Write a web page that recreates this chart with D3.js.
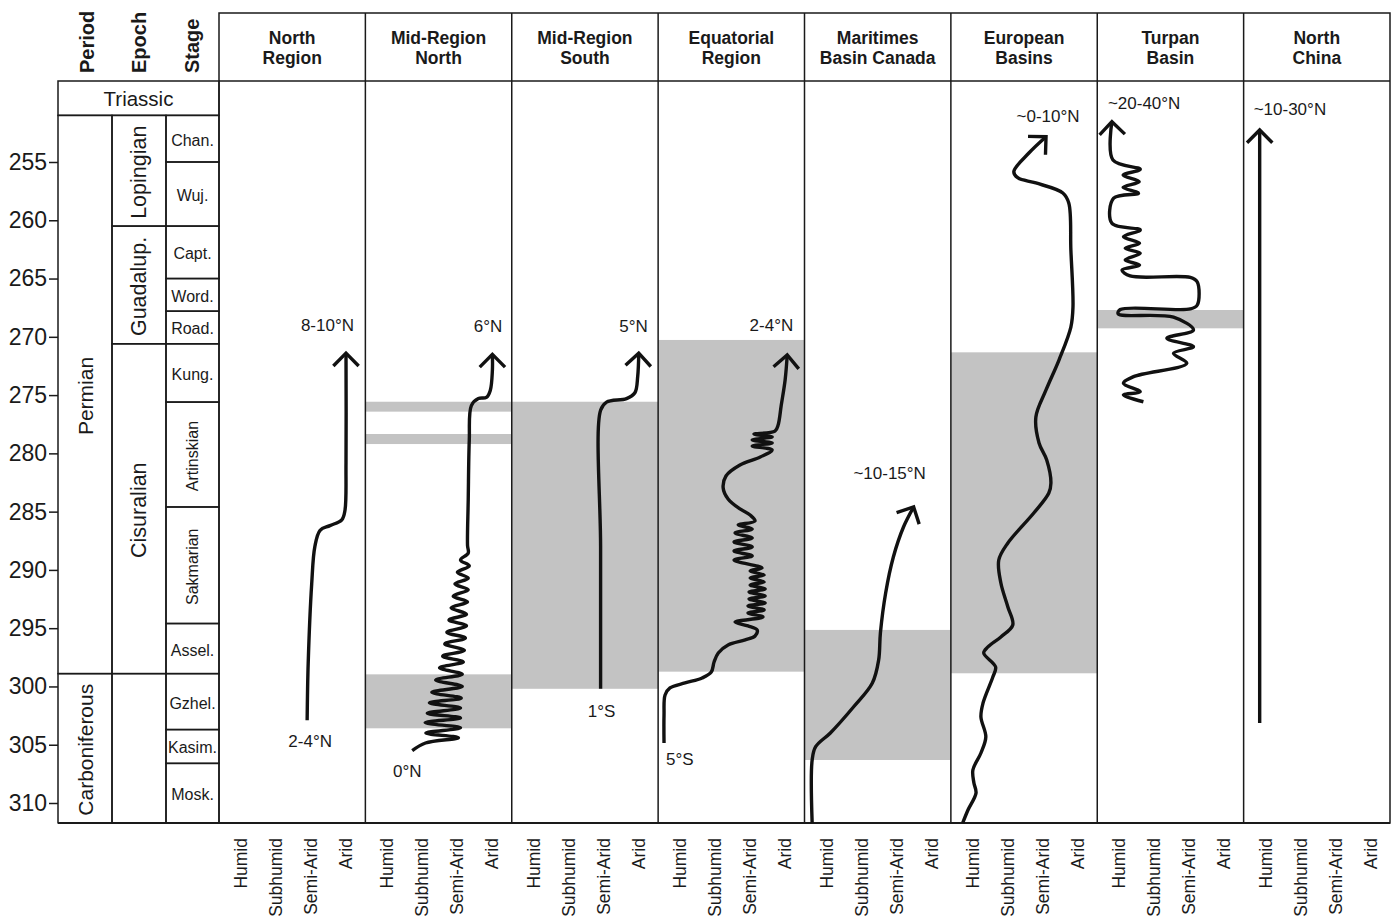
<!DOCTYPE html>
<html>
<head>
<meta charset="utf-8">
<script src="https://cdn.jsdelivr.net/npm/d3@7"></script>
<style>
  html, body { margin: 0; padding: 0; background: #fff; }
  svg text { font-family: "Liberation Sans", Arial, sans-serif; fill: #1a1a1a; }
</style>
</head>
<body>
<div id="chart"></div>
<script>
/* =====================================================
 * DATA
 * ===================================================== */
const regions = ["North Region", "Mid-Region North", "Mid-Region South", "Equatorial Region",
  "Maritimes Basin Canada", "European Basins", "Turpan Basin", "North China"];
const regionTitles = [["North", "Region"], ["Mid-Region", "North"], ["Mid-Region", "South"],
  ["Equatorial", "Region"], ["Maritimes", "Basin Canada"], ["European", "Basins"],
  ["Turpan", "Basin"], ["North", "China"]];
const climates = ["Humid", "Subhumid", "Semi-Arid", "Arid"];
const ageTicks = [255, 260, 265, 270, 275, 280, 285, 290, 295, 300, 305, 310];

// time scale (Ma): [name, top, base]
const periods = [["Permian", 251, 298.9], ["Carboniferous", 298.9, 311.7]];
const epochs = [["Lopingian", 251, 260.5], ["Guadalup.", 260.5, 270.6],
  ["Cisuralian", 270.6, 298.9], ["", 298.9, 311.7]];
const stages = [["Chan.", 251, 255], ["Wuj.", 255, 260.5], ["Capt.", 260.5, 265],
  ["Word.", 265, 267.8], ["Road.", 267.8, 270.6], ["Kung.", 270.6, 275.6],
  ["Artinskian", 275.6, 284.6], ["Sakmarian", 284.6, 294.6], ["Assel.", 294.6, 298.9],
  ["Gzhel.", 298.9, 303.7], ["Kasim.", 303.7, 306.6], ["Mosk.", 306.6, 311.7]];
const triassicBase = 251;

// climate curves: [age Ma, climate index 0=Humid .. 3=Arid], oldest first
const curveNorthRegion = [[302.9, 1.89], [298.0, 1.92], [291.2, 2.02], [288.0, 2.11], [286.6, 2.26],
  [286.2, 2.54], [285.7, 2.88], [284.9, 2.97], [280.8, 3.0], [271.4, 3.0]];

const curveMidNorth = [[305.5, 0.71], [304.85, 1.09],
  [304.4, 2.03], [304.0, 1.1], [303.55, 2.09], [303.1, 1.08], [302.7, 2.09], [302.3, 1.14],
  [301.85, 2.09], [301.4, 1.2], [301.0, 2.11], [300.5, 1.27], [300.0, 2.14], [299.45, 1.38],
  [298.95, 2.14], [298.4, 1.49], [297.9, 2.17], [297.4, 1.58], [296.9, 2.2], [296.35, 1.64],
  [295.85, 2.23], [295.35, 1.7], [294.8, 2.26], [294.3, 1.76], [293.8, 2.26], [293.25, 1.82],
  [292.75, 2.29], [292.25, 1.88], [291.7, 2.31], [291.2, 1.93], [290.7, 2.31], [290.2, 2.0],
  [289.65, 2.34], [289.15, 2.09], [288.55, 2.31],
  [287.9, 2.29], [284.0, 2.31], [278.9, 2.34], [275.9, 2.4], [275.3, 2.6], [275.2, 2.83],
  [274.6, 2.94], [272.9, 3.0], [271.5, 3.0]];

const curveMidSouth = [[300.2, 1.91], [288.0, 1.91], [276.3, 1.91], [275.6, 2.08], [275.3, 2.65],
  [274.8, 2.89], [273.4, 2.97], [271.4, 3.0]];

const curveEquatorial = [[304.85, -0.46], [302.45, -0.46], [300.73, -0.43], [300.13, -0.29],
  [299.7, 0.14], [299.27, 0.63], [298.76, 0.89], [297.9, 0.97], [297.13, 1.09], [296.44, 1.37],
  [296.01, 1.86], [295.67, 2.14], [295.15, 2.2], [294.81, 1.94], [294.47, 1.57],
  [294.04, 2.37], [293.7, 1.94], [293.44, 2.4], [293.09, 1.94], [292.84, 2.43], [292.49, 1.97],
  [292.24, 2.43], [291.89, 1.97], [291.64, 2.43], [291.29, 2.0], [291.04, 2.4], [290.69, 2.0],
  [290.44, 2.4], [290.09, 2.0], [289.83, 2.34],
  [289.15, 1.54], [288.8, 2.06], [288.38, 1.54], [288.03, 2.06], [287.6, 1.54], [287.26, 2.06],
  [286.83, 1.57], [286.49, 2.06], [286.15, 1.66], [285.8, 2.14],
  [285.29, 2.0], [284.77, 1.71], [283.91, 1.37], [282.97, 1.23], [281.94, 1.31], [281.0, 1.71],
  [280.31, 2.29], [279.71, 2.63],
  [279.37, 2.06], [279.11, 2.63], [278.85, 2.06], [278.59, 2.63], [278.34, 2.11], [278.1, 2.71],
  [277.57, 2.8], [275.85, 2.89], [273.7, 3.0], [271.56, 3.06]];

const curveMaritimes = [[311.71, -0.41], [306.31, -0.41], [305.17, -0.31], [303.99, 0.11],
  [301.76, 0.77], [299.7, 1.31], [297.73, 1.49], [295.41, 1.54], [291.98, 1.69], [288.89, 1.91],
  [286.32, 2.2], [284.6, 2.49]];

const curveEuropean = [[311.71, -0.29], [310.6, -0.14], [309.14, 0.09], [308.28, 0.03],
  [307.17, 0.0], [305.71, 0.23], [304.33, 0.37], [302.62, 0.23], [301.42, 0.29], [299.19, 0.57],
  [298.33, 0.65], [297.13, 0.31], [296.61, 0.43], [295.75, 0.8], [294.73, 1.14], [293.18, 1.0],
  [291.12, 0.8], [289.15, 0.74], [287.69, 1.0], [285.12, 1.74], [283.4, 2.17], [282.54, 2.23],
  [280.57, 2.11], [279.11, 1.89], [276.88, 1.8], [274.56, 2.09], [271.99, 2.46], [269.16, 2.8],
  [267.44, 2.86], [262.55, 2.8], [258.52, 2.74], [257.66, 2.57], [256.8, 1.8], [256.37, 1.29],
  [255.83, 1.17], [254.23, 1.6], [252.83, 2.09]];

const curveTurpan = [[275.57, 0.69], [274.99, 0.12], [274.71, 0.6], [273.99, 0.12], [273.42, 0.41],
  [272.27, 1.93], [271.41, 1.55], [270.85, 2.12], [270.13, 1.36], [269.41, 2.12], [268.32, 1.55],
  [268.04, -0.03], [267.66, 0.03], [267.61, 2.03], [267.27, 2.23], [265.3, 2.23], [264.91, 2.03],
  [264.78, 0.31], [264.27, 0.08], [263.84, 0.58], [263.41, 0.17], [262.83, 0.6], [262.4, 0.17],
  [261.97, 0.58], [261.41, 0.12], [260.83, 0.6], [260.26, -0.21], [258.11, -0.16], [257.68, 0.55],
  [257.17, 0.11], [256.69, 0.57], [256.12, 0.11], [255.63, 0.6], [254.83, -0.18], [251.54, -0.21]];

const curveNorthChina = [[303.13, -0.17], [252.25, -0.17]];

// arid intervals (gray bands): [top, base] Ma
const bandsNorthRegion = [];
const bandsMidNorth = [[275.57, 276.42], [278.34, 279.2], [298.96, 303.59]];
const bandsMidSouth = [[275.57, 300.2]];
const bandsEquatorial = [[270.27, 298.73]];
const bandsMaritimes = [[295.15, 306.31]];
const bandsEuropean = [[271.33, 298.87]];
const bandsTurpan = [[267.7, 269.27]];
const bandsNorthChina = [];

// paleolatitudes
const latTop = ["8-10°N", "6°N", "5°N", "2-4°N", "~10-15°N", "~0-10°N", "~20-40°N", "~10-30°N"];
const latBottom = ["2-4°N", "0°N", "1°S", "5°S", null, null, null, null];

/* =====================================================
 * LAYOUT
 * ===================================================== */
const W = 1393, H = 924;
const frame = { left: 58, epochX: 112, stageX: 166, colsX: 219, right: 1390,
  top: 13, head: 81, bottom: 823 };
const INK = "#1a1a1a";
const BAND = "#c3c3c3";
const FONT_BOLD = 17.5;

// label placement relative to curve ends
const topLabelPos = [
  { anchor: "end", dx: 8, dy: -28 }, { anchor: "end", dx: 10, dy: -28 },
  { anchor: "end", dx: 9, dy: -27 }, { anchor: "end", dx: 6, dy: -29 },
  { anchor: "middle", dx: -24, dy: -33 }, { anchor: "middle", dx: 2, dy: -20 },
  { anchor: "start", dx: -4, dy: -18 }, { anchor: "start", dx: -6, dy: -20 }
];
const bottomLabelPos = [
  { anchor: "middle", dx: 3, dy: 21 }, { anchor: "middle", dx: -5, dy: 21 },
  { anchor: "middle", dx: 1, dy: 23 }, { anchor: "start", dx: 2, dy: 17 }
];

const curves = [curveNorthRegion, curveMidNorth, curveMidSouth, curveEquatorial,
  curveMaritimes, curveEuropean, curveTurpan, curveNorthChina];
const bands = [bandsNorthRegion, bandsMidNorth, bandsMidSouth, bandsEquatorial,
  bandsMaritimes, bandsEuropean, bandsTurpan, bandsNorthChina];

/* =====================================================
 * SCALES
 * ===================================================== */
const y = d3.scaleLinear().domain([255, 310]).range([162, 803]);
const cols = d3.scaleBand().domain(regions).range([frame.colsX, frame.right]);
const climPad = [22, 127];

function climX(region) {
  const L = cols(region);
  return d3.scaleLinear().domain([0, climates.length - 1]).range([L + climPad[0], L + climPad[1]]);
}
function climPoint(region) {
  const L = cols(region);
  return d3.scalePoint().domain(climates).range([L + climPad[0], L + climPad[1]]);
}

const svg = d3.select("#chart")
  .append("svg")
  .attr("width", W)
  .attr("height", H)
  .attr("viewBox", `0 0 ${W} ${H}`);

const gBands = svg.append("g");
const gGrid = svg.append("g");
const gCurves = svg.append("g");
const gText = svg.append("g");

/* =====================================================
 * BANDS
 * ===================================================== */
regions.forEach((r, i) => {
  gBands.selectAll(null)
    .data(bands[i])
    .enter()
    .append("rect")
    .attr("x", cols(r))
    .attr("width", cols.bandwidth())
    .attr("y", d => y(d[0]))
    .attr("height", d => y(d[1]) - y(d[0]))
    .attr("fill", BAND);
});

/* =====================================================
 * TIME SCALE COLUMN
 * ===================================================== */
function cellRects(data, x0, x1, rotateAll, fontSize) {
  const g = gGrid.append("g");
  g.selectAll("rect")
    .data(data)
    .enter()
    .append("rect")
    .attr("x", x0).attr("width", x1 - x0)
    .attr("y", d => y(d[1]))
    .attr("height", d => y(d[2]) - y(d[1]))
    .attr("fill", "none")
    .attr("stroke", INK)
    .attr("stroke-width", 1.5);

  gText.selectAll(null)
    .data(data.filter(d => d[0]))
    .enter()
    .append("text")
    .attr("font-size", fontSize)
    .attr("text-anchor", "middle")
    .attr("dominant-baseline", "central")
    .attr("transform", d => {
      const cx = (x0 + x1) / 2, cy = (y(d[1]) + y(d[2])) / 2 + 1.5;
      const rot = rotateAll || (y(d[2]) - y(d[1]) > 80);
      return `translate(${cx},${cy})` + (rot ? " rotate(-90)" : "");
    })
    .text(d => d[0]);
}

cellRects(periods, frame.left, frame.epochX, true, 21);
cellRects(epochs, frame.epochX, frame.stageX, true, 21.5);
cellRects(stages, frame.stageX, frame.colsX, false, 16);

// Triassic
gGrid.append("rect")
  .attr("x", frame.left).attr("y", frame.head)
  .attr("width", frame.colsX - frame.left)
  .attr("height", y(triassicBase) - frame.head)
  .attr("fill", "none").attr("stroke", INK).attr("stroke-width", 1.5);
gText.append("text")
  .attr("x", (frame.left + frame.colsX) / 2)
  .attr("y", (frame.head + y(triassicBase)) / 2)
  .attr("text-anchor", "middle")
  .attr("dominant-baseline", "central")
  .attr("font-size", 20.5)
  .text("Triassic");

// column heads
[["Period", 87], ["Epoch", 139], ["Stage", 192]].forEach(([t, x]) => {
  gText.append("text")
    .attr("transform", `translate(${x},73) rotate(-90)`)
    .attr("dominant-baseline", "central")
    .attr("font-weight", "bold")
    .attr("font-size", 20)
    .text(t);
});

// age axis
const axis = d3.axisLeft(y).tickValues(ageTicks).tickSize(9).tickPadding(2);
const gAxis = svg.append("g")
  .attr("transform", `translate(${frame.left},0)`)
  .call(axis);
gAxis.select(".domain").remove();
gAxis.selectAll(".tick line").attr("stroke", INK).attr("stroke-width", 1.5);
gAxis.selectAll(".tick text")
  .attr("font-size", 23)
  .attr("fill", INK)
  .style("font-family", '"Liberation Sans", Arial, sans-serif');

/* =====================================================
 * REGION COLUMNS
 * ===================================================== */
gGrid.append("rect")
  .attr("x", frame.colsX).attr("y", frame.top)
  .attr("width", frame.right - frame.colsX)
  .attr("height", frame.bottom - frame.top)
  .attr("fill", "none").attr("stroke", INK).attr("stroke-width", 1.5);

gGrid.append("line")
  .attr("x1", frame.colsX).attr("x2", frame.right)
  .attr("y1", frame.head).attr("y2", frame.head)
  .attr("stroke", INK).attr("stroke-width", 1.5);

gGrid.selectAll(".divider")
  .data(regions.slice(1))
  .enter()
  .append("line")
  .attr("x1", d => cols(d)).attr("x2", d => cols(d))
  .attr("y1", frame.top).attr("y2", frame.bottom)
  .attr("stroke", INK).attr("stroke-width", 1.5);

// baseline
gGrid.append("line")
  .attr("x1", frame.left).attr("x2", frame.right)
  .attr("y1", frame.bottom).attr("y2", frame.bottom)
  .attr("stroke", INK).attr("stroke-width", 2.2);

// headers
regions.forEach((r, i) => {
  const t = gText.append("text")
    .attr("text-anchor", "middle")
    .attr("font-weight", "bold")
    .attr("font-size", FONT_BOLD);
  regionTitles[i].forEach((line, k) => {
    t.append("tspan")
      .attr("x", cols(r) + cols.bandwidth() / 2)
      .attr("y", 44 + k * 20)
      .text(line);
  });
});

// climate labels
regions.forEach(r => {
  const px = climPoint(r);
  gText.selectAll(null)
    .data(climates)
    .enter()
    .append("text")
    .attr("transform", d => `translate(${px(d)},838) rotate(-90)`)
    .attr("text-anchor", "end")
    .attr("dominant-baseline", "central")
    .attr("font-size", 17.5)
    .text(d => d);
});

/* =====================================================
 * CURVES + ARROWS
 * ===================================================== */
function arrowPath(xs, pts) {
  const [a0, c0] = pts[pts.length - 2];
  const [a1, c1] = pts[pts.length - 1];
  const x0 = xs(c0), y0 = y(a0), x1 = xs(c1), y1 = y(a1);
  const ang = Math.atan2(y1 - y0, x1 - x0);
  const len = 18, spread = 0.78;
  const p1 = [x1 - len * Math.cos(ang - spread), y1 - len * Math.sin(ang - spread)];
  const p2 = [x1 - len * Math.cos(ang + spread), y1 - len * Math.sin(ang + spread)];
  return `M${p1}L${x1},${y1}L${p2}`;
}

regions.forEach((r, i) => {
  const xs = climX(r);
  const pts = curves[i];
  const line = d3.line()
    .x(d => xs(d[1]))
    .y(d => y(d[0]))
    .curve(d3.curveCatmullRom.alpha(0.5));

  gCurves.append("path")
    .attr("d", line(pts))
    .attr("fill", "none")
    .attr("stroke", "#111")
    .attr("stroke-width", 3.4)
    .attr("stroke-linejoin", "round");

  gCurves.append("path")
    .attr("d", arrowPath(xs, pts))
    .attr("fill", "none")
    .attr("stroke", "#111")
    .attr("stroke-width", 3.4)
    .attr("stroke-linejoin", "miter");

  // paleolatitude labels
  const tip = pts[pts.length - 1];
  const tp = topLabelPos[i];
  gText.append("text")
    .attr("x", xs(tip[1]) + tp.dx)
    .attr("y", y(tip[0]) + tp.dy)
    .attr("text-anchor", tp.anchor)
    .attr("dominant-baseline", "central")
    .attr("font-size", 17)
    .text(latTop[i]);

  if (latBottom[i]) {
    const st = pts[0];
    const bp = bottomLabelPos[i];
    gText.append("text")
      .attr("x", xs(st[1]) + bp.dx)
      .attr("y", y(st[0]) + bp.dy)
      .attr("text-anchor", bp.anchor)
      .attr("dominant-baseline", "central")
      .attr("font-size", 17)
      .text(latBottom[i]);
  }
});
</script>
</body>
</html>
